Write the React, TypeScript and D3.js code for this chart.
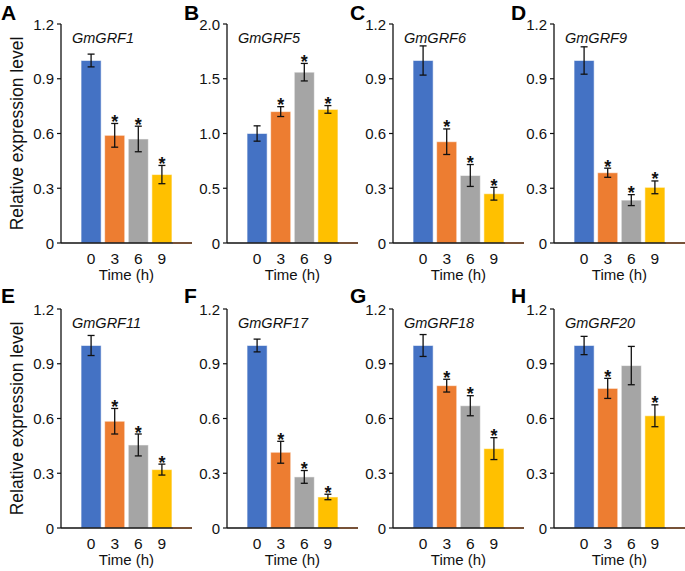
import React from "react";
import * as d3 from "d3";

// panel data
const letters = ["A", "B", "C", "D", "E", "F", "G", "H"];
const genes = ["GmGRF1", "GmGRF5", "GmGRF6", "GmGRF9", "GmGRF11", "GmGRF17", "GmGRF18", "GmGRF20"];
const times = ["0", "3", "6", "9"];
const barColors = ["#4472C4", "#ED7D31", "#A5A5A5", "#FFC000"];

const means = [
  [1.0, 0.59, 0.57, 0.375],
  [1.0, 1.2, 1.56, 1.22],
  [1.0, 0.555, 0.37, 0.27],
  [1.0, 0.385, 0.235, 0.305],
  [1.0, 0.585, 0.455, 0.32],
  [1.0, 0.415, 0.28, 0.17],
  [1.0, 0.78, 0.67, 0.435],
  [1.0, 0.765, 0.89, 0.615],
];
const errs = [
  [0.035, 0.065, 0.07, 0.05],
  [0.07, 0.045, 0.08, 0.035],
  [0.08, 0.07, 0.06, 0.035],
  [0.075, 0.025, 0.03, 0.035],
  [0.055, 0.07, 0.06, 0.03],
  [0.035, 0.06, 0.035, 0.015],
  [0.06, 0.035, 0.055, 0.06],
  [0.05, 0.055, 0.105, 0.06],
];
const stars = [
  [false, true, true, true],
  [false, true, true, true],
  [false, true, true, true],
  [false, true, true, true],
  [false, true, true, true],
  [false, true, true, true],
  [false, true, true, true],
  [false, true, false, true],
];
const yMax = [1.2, 2.0, 1.2, 1.2, 1.2, 1.2, 1.2, 1.2];
const yStep = [0.3, 0.5, 0.3, 0.3, 0.3, 0.3, 0.3, 0.3];

const W = 685;
const H = 571;
const axisXs = [61, 227, 393, 554];
const rowTops = [24, 309];
const plotH = 219;
const axisLen = 131;
const font = "Arial, 'Liberation Sans', Helvetica, sans-serif";

function Panel({ i }: { i: number }) {
  const col = i % 4;
  const row = Math.floor(i / 4);
  const x0 = axisXs[col];
  const top = rowTops[row];
  const base = top + plotH;

  const x = d3.scaleBand<string>().domain(times).range([x0, x0 + axisLen]).paddingInner(0.15).paddingOuter(0.85);
  const y = d3.scaleLinear().domain([0, yMax[i]]).range([base, top]);
  const ticks = d3.range(0, yMax[i] + 1e-6, yStep[i]);
  const lastBarEnd = (x(times[3]) as number) + x.bandwidth();

  return (
    <g>
      <text x={col === 0 ? 1 : x0 - 43} y={row === 0 ? 20 : 303} fontSize={21} fontWeight="bold" fontFamily={font}>
        {letters[i]}
      </text>
      {means[i].map((v, j) => (
        <rect key={j} x={x(times[j])} y={y(v)} width={x.bandwidth()} height={base - y(v)}
          fill={barColors[j]} stroke="#ffffff" strokeOpacity={0.55} strokeWidth={1} />
      ))}
      {means[i].map((v, j) => {
        const cx = (x(times[j]) as number) + x.bandwidth() / 2;
        const hi = y(v + errs[i][j]);
        const lo = y(v - errs[i][j]);
        return (
          <g key={j} stroke="#111" strokeWidth={1.3}>
            <line x1={cx} x2={cx} y1={hi} y2={lo} />
            <line x1={cx - 3.5} x2={cx + 3.5} y1={hi} y2={hi} />
            <line x1={cx - 3.5} x2={cx + 3.5} y1={lo} y2={lo} />
          </g>
        );
      })}
      {means[i].map((v, j) =>
        stars[i][j] ? (
          <text key={j} x={(x(times[j]) as number) + x.bandwidth() / 2} y={y(v + errs[i][j]) + 4.5}
            textAnchor="middle" fontSize={18} fontWeight="bold" fontFamily={font} fill="#111">*</text>
        ) : null
      )}
      {/* axes */}
      <line x1={x0} x2={x0 + axisLen} y1={base} y2={base} stroke="#111" strokeWidth={1.4} />
      <line x1={lastBarEnd + 1} x2={x0 + axisLen} y1={base} y2={base} stroke="#8a5530" strokeWidth={1.4} />
      <line x1={x0} x2={x0} y1={top} y2={base} stroke="#111" strokeWidth={1.3} />
      {ticks.map((t) => (
        <g key={t}>
          <line x1={x0 - 4} x2={x0} y1={y(t)} y2={y(t)} stroke="#111" strokeWidth={1.2} />
          <text x={x0 - 7} y={y(t) + 5.5} textAnchor="end" fontSize={15} fontFamily={font} fill="#111">
            {t === 0 ? "0" : t.toFixed(1)}
          </text>
        </g>
      ))}
      {times.map((t) => (
        <text key={t} x={(x(t) as number) + x.bandwidth() / 2} y={base + 21} textAnchor="middle"
          fontSize={15.5} fontFamily={font} fill="#111">{t}</text>
      ))}
      <text x={(x0 + 20 + lastBarEnd) / 2} y={base + 37} textAnchor="middle" fontSize={15} fontFamily={font} fill="#111">
        Time (h)
      </text>
      <text x={x0 + 11} y={top + 19} fontSize={14.5} fontStyle="italic" fontFamily={font} fill="#111">
        {genes[i]}
      </text>
      {col === 0 && (
        <text transform={`translate(${x0 - 38},${top + plotH / 2}) rotate(-90)`} textAnchor="middle"
          fontSize={17.5} fontFamily={font} fill="#111">
          Relative expression level
        </text>
      )}
    </g>
  );
}

export default function App() {
  return (
    <svg width={W} height={H} style={{ position: "absolute", left: 0, top: 0, background: "#fff" }}>
      {letters.map((_, i) => (
        <Panel key={i} i={i} />
      ))}
    </svg>
  );
}
